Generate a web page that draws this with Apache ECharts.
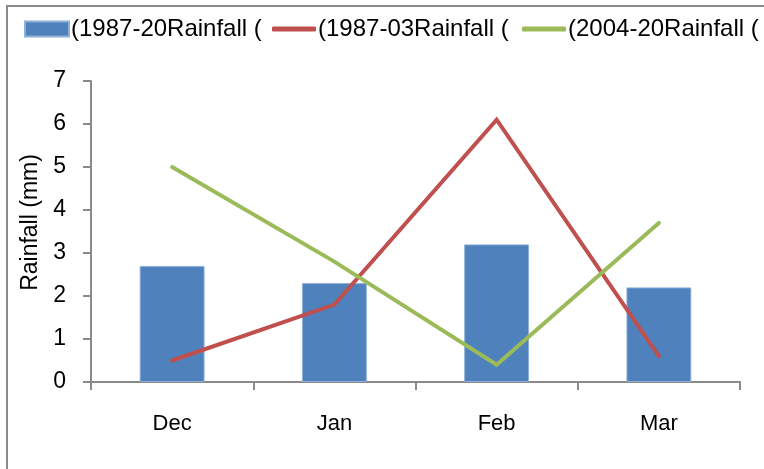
<!DOCTYPE html>
<html>
<head>
<meta charset="utf-8">
<style>
  html, body { margin: 0; padding: 0; background: #fff; }
  #chart { width: 764px; height: 469px; }
</style>
<script src="https://cdn.jsdelivr.net/npm/echarts@6/dist/echarts.min.js"></script>
</head>
<body>
<div id="chart"></div>
<script>
// Monthly rainfall, Dec–Mar
const months = ['Dec', 'Jan', 'Feb', 'Mar'];
const yTicks = { min: 0, max: 7, interval: 1 };

const seriesNames = ['(1987-20Rainfall (', '(1987-03Rainfall (', '(2004-20Rainfall ('];
const rain1987to20 = [2.7, 2.3, 3.2, 2.2];
const rain1987to03 = [0.5, 1.8, 6.1, 0.6];
const rain2004to20 = [5.0, 2.8, 0.4, 3.7];

const BLUE = '#4F81BD', RED = '#C0504D', GREEN = '#9BBB59', AXIS = '#8a8a8a';
const FONT = '"Liberation Sans", Arial, sans-serif';

const chart = echarts.init(document.getElementById('chart'), null, { renderer: 'canvas' });

function legendAt(left, name, icon, h) {
  return {
    left: left, top: 17, orient: 'horizontal',
    data: [{ name: name, icon: icon }],
    itemWidth: 44, itemHeight: h, itemGap: 0, padding: 0,
    selectedMode: false,
    textStyle: { fontFamily: FONT, fontSize: 24, color: '#000', padding: [0, 0, 0, -3] }
  };
}

chart.setOption({
  animation: false,
  backgroundColor: '#fff',
  graphic: [{
    type: 'rect', silent: true,
    shape: { x: 7, y: 6, width: 900, height: 700 },
    style: { fill: 'none', stroke: AXIS, lineWidth: 2 }
  }],
  legend: [
    legendAt(24, seriesNames[0], 'rect', 15),
    legendAt(272, seriesNames[1], 'roundRect', 5),
    legendAt(522, seriesNames[2], 'roundRect', 5)
  ],
  grid: { left: 91, right: 24, top: 81, bottom: 87 },
  xAxis: {
    type: 'category',
    data: months,
    boundaryGap: true,
    axisLine: { lineStyle: { color: AXIS, width: 2 } },
    axisTick: { show: true, alignWithLabel: false, length: 8, lineStyle: { color: AXIS, width: 2 } },
    axisLabel: { margin: 31, fontFamily: FONT, fontSize: 22, color: '#000' }
  },
  yAxis: {
    type: 'value',
    min: yTicks.min, max: yTicks.max, interval: yTicks.interval,
    name: 'Rainfall (mm)',
    nameLocation: 'middle',
    nameGap: 44,
    nameTextStyle: { fontFamily: FONT, fontSize: 23, color: '#000', padding: [0, 0, 0, 18] },
    splitLine: { show: false },
    axisLine: { show: true, lineStyle: { color: AXIS, width: 2 } },
    axisTick: { show: true, length: 8, lineStyle: { color: AXIS, width: 2 } },
    axisLabel: { margin: 25, fontFamily: FONT, fontSize: 23, color: '#000' }
  },
  series: [
    {
      name: seriesNames[0], type: 'bar', data: rain1987to20,
      barWidth: '40%',
      itemStyle: { color: BLUE, borderColor: '#8fb0d8', borderWidth: 1 }
    },
    {
      name: seriesNames[1], type: 'line', data: rain1987to03,
      symbol: 'none', itemStyle: { color: RED },
      lineStyle: { color: RED, width: 4, cap: 'round', join: 'miter' }
    },
    {
      name: seriesNames[2], type: 'line', data: rain2004to20,
      symbol: 'none', itemStyle: { color: GREEN },
      lineStyle: { color: GREEN, width: 4, cap: 'round', join: 'miter' }
    }
  ]
});
</script>
</body>
</html>
